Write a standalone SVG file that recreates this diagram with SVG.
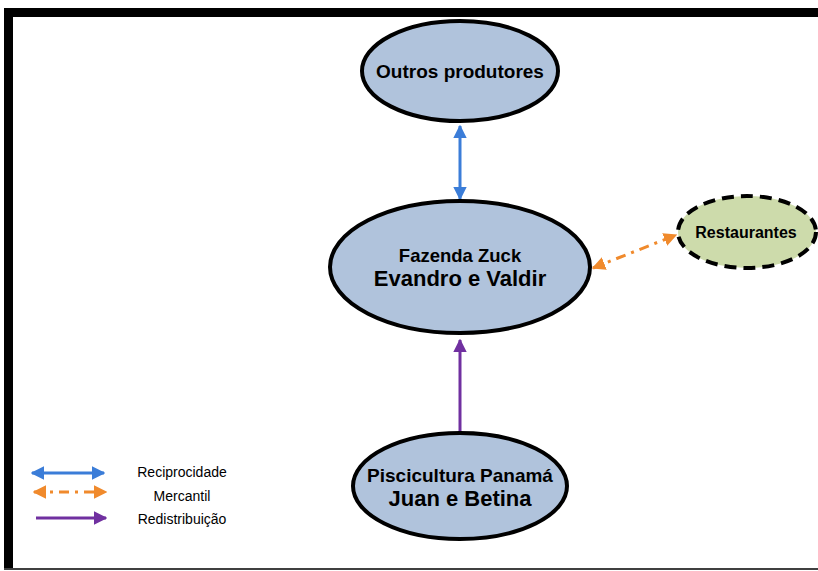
<svg xmlns="http://www.w3.org/2000/svg" width="818" height="571" viewBox="0 0 818 571">
<style>
.node{fill:#b0c3dc;stroke:#000;stroke-width:4}
.t{font-family:"Liberation Sans",Arial,sans-serif;font-weight:bold;fill:#000;text-anchor:middle}
.lg{font-family:"Liberation Sans",Arial,sans-serif;font-size:14px;fill:#000;text-anchor:middle}
</style>
<defs>
<marker id="hb" viewBox="0 0 10 10" refX="9" refY="5" markerWidth="4.5" markerHeight="4.5" orient="auto-start-reverse" markerUnits="strokeWidth"><path d="M0,0 L10,5 L0,10 Z" fill="#3b7dd8"/></marker>
<marker id="ho" viewBox="0 0 10 10" refX="9" refY="5" markerWidth="4.5" markerHeight="4.5" orient="auto-start-reverse" markerUnits="strokeWidth"><path d="M0,0 L10,5 L0,10 Z" fill="#f08a2c"/></marker>
<marker id="hp" viewBox="0 0 10 10" refX="9" refY="5" markerWidth="4.5" markerHeight="4.5" orient="auto-start-reverse" markerUnits="strokeWidth"><path d="M0,0 L10,5 L0,10 Z" fill="#7030a0"/></marker>
</defs>
<rect width="818" height="571" fill="#fff"/>
<g id="frame">
<rect x="4" y="8" width="814" height="9" fill="#000"/>
<rect x="4" y="8" width="9" height="560" fill="#000"/>
<line x1="4" y1="569" x2="818" y2="569" stroke="#000" stroke-width="1.5"/>
</g>
<g id="connectors" fill="none">
<line x1="460" y1="126" x2="460" y2="199" stroke="#3b7dd8" stroke-width="3" marker-start="url(#hb)" marker-end="url(#hb)"/>
<line x1="593" y1="268" x2="676" y2="235" stroke="#f08a2c" stroke-width="3" stroke-dasharray="10,6,3,6" marker-start="url(#ho)" marker-end="url(#ho)"/>
<line x1="460" y1="432" x2="460" y2="340" stroke="#7030a0" stroke-width="3" marker-end="url(#hp)"/>
</g>
<g id="outros">
<ellipse class="node" cx="460" cy="71" rx="98" ry="50"/>
<text class="t" x="460" y="78" font-size="19">Outros produtores</text>
</g>
<g id="fazenda">
<ellipse class="node" cx="460" cy="267" rx="130" ry="66"/>
<text class="t" x="460" y="262" font-size="18.5">Fazenda Zuck</text>
<text class="t" x="460" y="286" font-size="22">Evandro e Valdir</text>
</g>
<g id="restaurantes">
<ellipse cx="747" cy="232" rx="69" ry="36" fill="#cddbab" stroke="#000" stroke-width="4" stroke-dasharray="12,7"/>
<text class="t" x="746" y="238" font-size="16">Restaurantes</text>
</g>
<g id="piscicultura">
<ellipse class="node" cx="460" cy="486" rx="107" ry="53"/>
<text class="t" x="460" y="482" font-size="19">Piscicultura Panamá</text>
<text class="t" x="460" y="506" font-size="22">Juan e Betina</text>
</g>
<g id="legend">
<line x1="32" y1="473" x2="104" y2="473" stroke="#3b7dd8" stroke-width="3" marker-start="url(#hb)" marker-end="url(#hb)"/>
<line x1="34" y1="492" x2="106" y2="492" stroke="#f08a2c" stroke-width="3" stroke-dasharray="10,6,3,6" marker-start="url(#ho)" marker-end="url(#ho)"/>
<line x1="36" y1="518" x2="106" y2="518" stroke="#7030a0" stroke-width="3" marker-end="url(#hp)"/>
<text class="lg" x="182" y="477">Reciprocidade</text>
<text class="lg" x="182" y="501">Mercantil</text>
<text class="lg" x="182" y="524">Redistribuição</text>
</g>
</svg>
